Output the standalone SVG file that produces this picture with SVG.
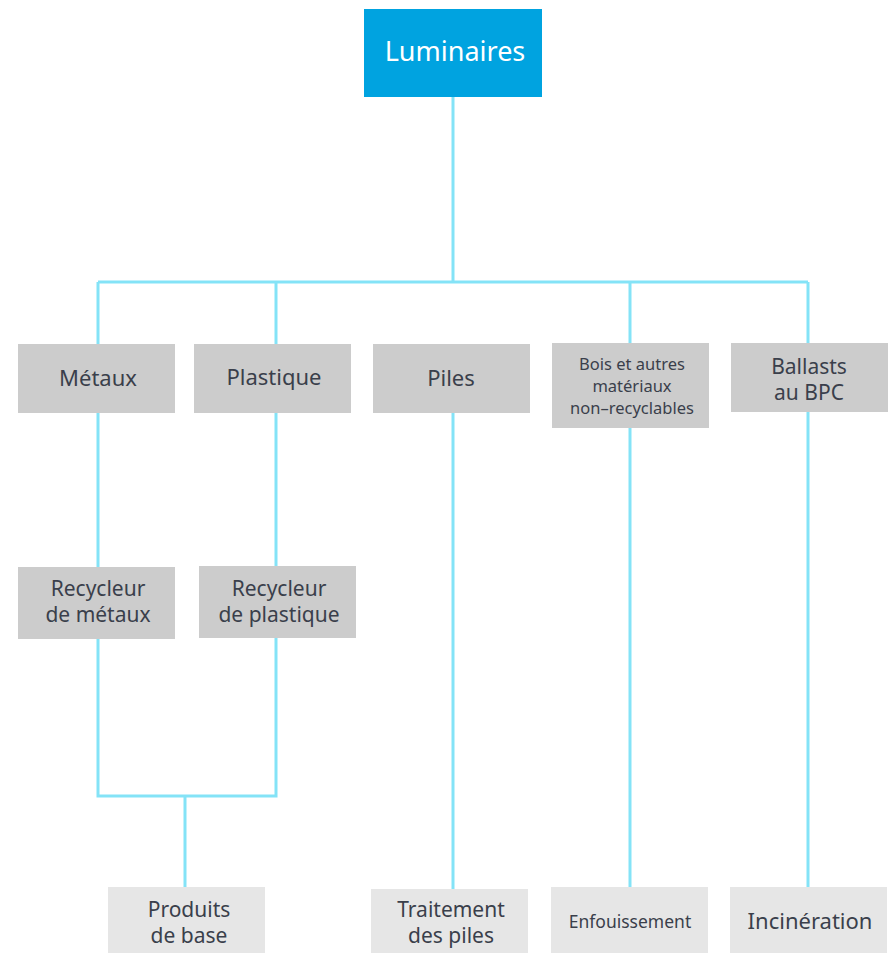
<svg xmlns="http://www.w3.org/2000/svg" width="890" height="953" viewBox="0 0 890 953">
<style>
.l{fill:none;stroke:#84E3F7;stroke-width:3}
.g{fill:#CCCCCC}
.b{fill:#E6E6E6}
.t{font-family:"Noto Sans","Lato",sans-serif;fill:#3A3F4B;text-anchor:middle;font-size:22px}
.m{font-size:21px}
.s{font-size:16.5px}
</style>
<rect width="890" height="953" fill="#FFFFFF"/>
<g id="connectors">
<path class="l" d="M453 97V282M98 282H808M98 282V344M276 282V344M630 282V343M808 282V343"/>
<path class="l" d="M98 413V567M276 413V566M453 413V889M630 428V887M808 412V887"/>
<path class="l" d="M98 639V796H276V638M185 796V887"/>
</g>
<g id="luminaires"><rect x="364" y="9" width="178" height="88" fill="#00A3E0"/><text class="t" x="455" y="61" style="fill:#FFFFFF;font-size:27px">Luminaires</text></g>
<g id="metaux"><rect class="g" x="18" y="344" width="157" height="69"/><text class="t" x="98" y="386">Métaux</text></g>
<g id="plastique"><rect class="g" x="194" y="344" width="157" height="69"/><text class="t" x="274" y="385">Plastique</text></g>
<g id="piles"><rect class="g" x="373" y="344" width="157" height="69"/><text class="t" x="451" y="386">Piles</text></g>
<g id="bois"><rect class="g" x="552" y="343" width="157" height="85"/><text class="t s" x="632" y="370">Bois et autres</text><text class="t s" x="632" y="392">matériaux</text><text class="t s" x="632" y="414">non–recyclables</text></g>
<g id="ballasts"><rect class="g" x="731" y="343" width="157" height="69"/><text class="t m" x="809" y="374">Ballasts</text><text class="t m" x="809" y="400">au BPC</text></g>
<g id="recycleur-metaux"><rect class="g" x="18" y="567" width="157" height="72"/><text class="t m" x="98" y="596">Recycleur</text><text class="t m" x="98" y="622">de métaux</text></g>
<g id="recycleur-plastique"><rect class="g" x="199" y="566" width="157" height="72"/><text class="t m" x="279" y="596">Recycleur</text><text class="t m" x="279" y="622">de plastique</text></g>
<g id="produits"><rect class="b" x="108" y="887" width="157" height="66"/><text class="t m" x="189" y="917">Produits</text><text class="t m" x="189" y="943">de base</text></g>
<g id="traitement"><rect class="b" x="371" y="889" width="157" height="64"/><text class="t m" x="451" y="917">Traitement</text><text class="t m" x="451" y="943">des piles</text></g>
<g id="enfouissement"><rect class="b" x="551" y="887" width="157" height="66"/><text class="t" x="630" y="928" style="font-size:17.5px">Enfouissement</text></g>
<g id="incineration"><rect class="b" x="730" y="887" width="157" height="66"/><text class="t" x="810" y="929">Incinération</text></g>
</svg>
